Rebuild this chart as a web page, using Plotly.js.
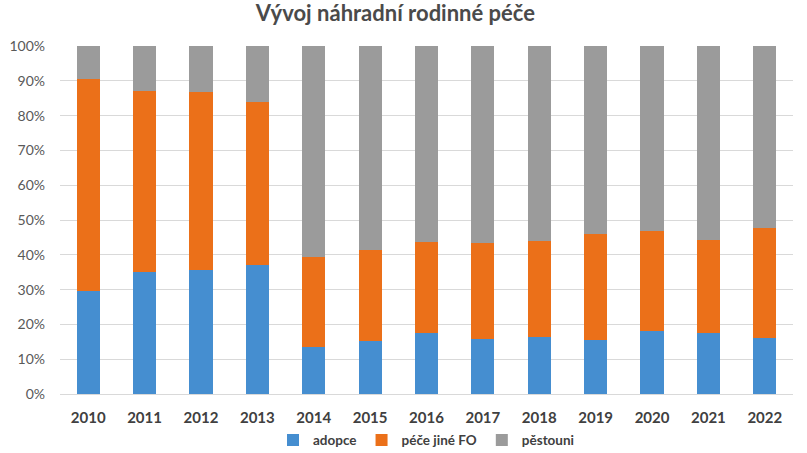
<!DOCTYPE html>
<html>
<head>
<meta charset="utf-8">
<script src="https://cdn.plot.ly/plotly-3.0.1.min.js"></script>
<style>html,body{margin:0;padding:0;background:#fff;}#chart{width:807px;height:453px;}</style>
</head>
<body>
<div id="chart"></div>
<script>
const years = ['2010','2011','2012','2013','2014','2015','2016','2017','2018','2019','2020','2021','2022'];
const adopce = [29.5, 35.2, 35.7, 37.2, 13.5, 15.1, 17.4, 15.8, 16.5, 15.6, 18.0, 17.4, 16.2];
const peceJineFO = [61.0, 51.9, 51.1, 46.7, 25.8, 26.2, 26.3, 27.5, 27.4, 30.4, 28.8, 26.8, 31.4];
const pestouni = [9.5, 12.9, 13.2, 16.1, 60.7, 58.7, 56.3, 56.7, 56.1, 54.0, 53.2, 55.8, 52.4];
const seriesNames = ['adopce', 'péče jiné FO', 'pěstouni'];
const yTickVals = [0,10,20,30,40,50,60,70,80,90,100];
const yTickText = ['0%','10%','20%','30%','40%','50%','60%','70%','80%','90%','100%'];
const colors = ['#458ED0', '#EB7019', '#9B9B9B'];

const font = '"Lato", "Open Sans", sans-serif';
const data = [adopce, peceJineFO, pestouni].map((vals, i) => ({
  type: 'bar',
  name: seriesNames[i],
  x: years,
  y: vals,
  marker: {color: colors[i]},
  hoverinfo: 'x+y+name'
}));

const layout = {
  barmode: 'stack',
  barnorm: 'percent',
  bargap: 0.59,
  width: 807,
  height: 453,
  margin: {l: 60, r: 14, t: 46, b: 59, autoexpand: false},
  paper_bgcolor: '#fff',
  plot_bgcolor: '#fff',
  title: {text: '<b>Vývoj náhradní rodinné péče</b>', font: {family: font, size: 22, color: '#4a4a4a'}, x: 0.49, xanchor: 'center', y: 0.97, yanchor: 'middle'},
  xaxis: {
    type: 'category',
    tickmode: 'array',
    tickvals: years,
    ticktext: years,
    tickfont: {family: font, size: 15, color: '#404040', weight: 'bold'},
    showgrid: false,
    showline: true,
    linecolor: '#d9d9d9',
    ticks: '',
    ticklabelstandoff: 10
  },
  yaxis: {
    range: [0, 100],
    tickvals: yTickVals,
    ticktext: yTickText,
    tickfont: {family: font, size: 14, color: '#595959'},
    gridcolor: '#d9d9d9',
    zeroline: false,
    ticks: '',
    ticklabelstandoff: 14
  },
  legend: {
    orientation: 'h',
    x: 0.5, xanchor: 'center',
    y: -0.133, yanchor: 'middle',
    font: {family: font, size: 13.5, color: '#404040', weight: 'bold'},
    traceorder: 'normal',
    itemwidth: 30
  },
  showlegend: true
};

Plotly.newPlot('chart', data, layout, {displayModeBar: false, staticPlot: true});
</script>
</body>
</html>
